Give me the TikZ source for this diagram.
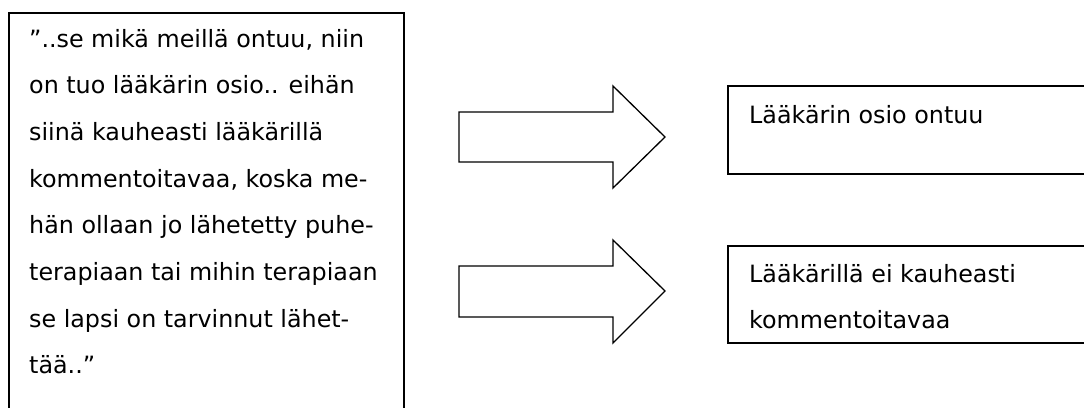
\documentclass[tikz,border=0pt]{standalone}
\usepackage{fontspec}
\setmainfont{DejaVu Sans}
\newcommand{\toplines}[1]{\vtop{\baselineskip=46.7pt\lineskiplimit=-100pt\halign{##\hfil\cr#1\crcr}}}
\begin{document}
\begin{tikzpicture}[x=1pt,y=-1pt,
  boxline/.style={draw=black,line width=1.4pt},
  blockarrow/.style={draw=black,line width=1.3pt,line join=miter,fill=white},
  txt/.style={anchor=base west,inner sep=0pt,font=\fontsize{23.8}{46.7}\selectfont}]
\useasboundingbox (0,0) rectangle (1084,407);
\clip (0,0) rectangle (1084,407);
\fill[white] (0,0) rectangle (1084,407);
% boxes
\draw[boxline] (9,420) -- (9,13) -- (404,13) -- (404,420);
\draw[boxline] (1090,86) -- (728,86) -- (728,174) -- (1090,174);
\draw[boxline] (1090,246) -- (728,246) -- (728,343) -- (1090,343);
% texts
\node[txt] (quote) at (29,47) {\toplines{”..se mikä meillä ontuu, niin\cr on tuo lääkärin osio.. eihän\cr siinä kauheasti lääkärillä\cr kommentoitavaa, koska me-\cr hän ollaan jo lähetetty puhe-\cr terapiaan tai mihin terapiaan\cr se lapsi on tarvinnut lähet-\cr tää..”}};
\node[txt] (r1) at (749,123) {Lääkärin osio ontuu};
\node[txt] (r2) at (749,282) {\toplines{Lääkärillä ei kauheasti\cr kommentoitavaa}};
% block arrows
\draw[blockarrow] (459,112) -- (613,112) -- (613,86) -- (665,137) -- (613,188) -- (613,162) -- (459,162) -- cycle;
\draw[blockarrow] (459,266) -- (613,266) -- (613,240) -- (665,291) -- (613,343) -- (613,317) -- (459,317) -- cycle;
\end{tikzpicture}
\end{document}
